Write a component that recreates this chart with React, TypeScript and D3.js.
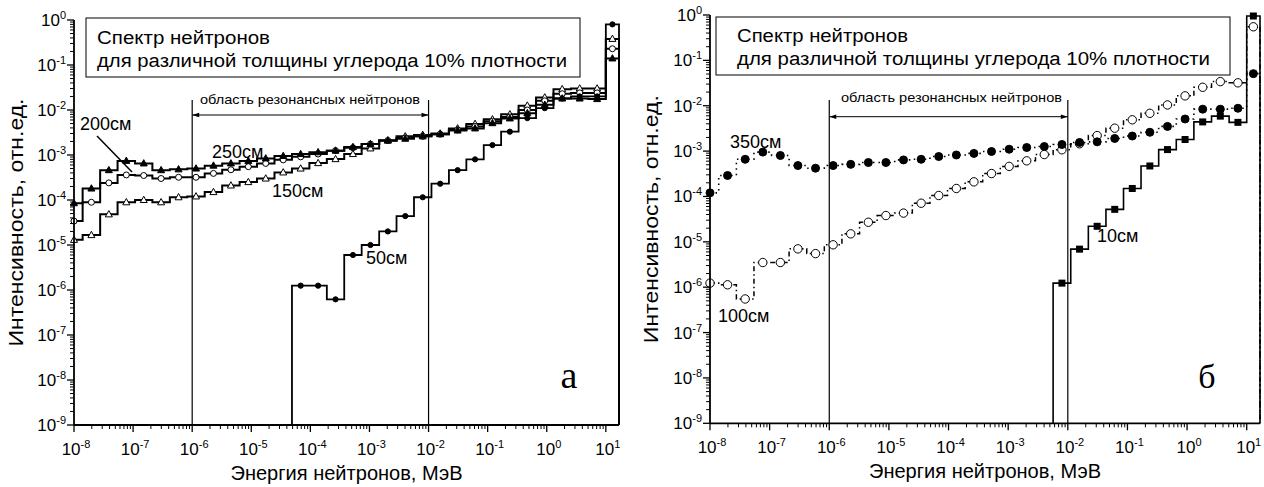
import React from 'react';
import * as d3 from 'd3';

// group boundaries, MeV (last group 10 - 16.7 MeV)
const binEdges = [
  1e-8, 1.4e-8, 2.77e-8, 5.46e-8, 1.08e-7, 2.12e-7, 4.19e-7, 8.26e-7, 1.63e-6, 3.22e-6,
  6.35e-6, 1.25e-5, 2.47e-5, 4.88e-5, 9.62e-5, 1.9e-4, 3.74e-4, 7.38e-4, 1.46e-3, 2.87e-3,
  5.67e-3, 1.12e-2, 2.21e-2, 4.36e-2, 8.59e-2, 0.169, 0.334, 0.659, 1.3, 2.57, 5.07, 10, 16.7,
];

// panel a
const c250 = [
  8.5e-5, 1.8e-4, 4.6e-4, 7.4e-4, 6.5e-4, 4.6e-4, 4.8e-4, 5.0e-4, 5.8e-4, 6.5e-4,
  7.4e-4, 8.4e-4, 9.5e-4, 1.05e-3, 1.15e-3, 1.25e-3, 1.5e-3, 1.75e-3, 2.1e-3, 2.3e-3,
  2.6e-3, 2.9e-3, 3.5e-3, 3.9e-3, 5.1e-3, 6.5e-3, 8.5e-3, 1.3e-2, 1.8e-2, 1.8e-2, 1.75e-2, 0.14,
];
const c200 = [
  3.4e-5, 8.9e-5, 2.4e-4, 3.6e-4, 3.5e-4, 3.0e-4, 3.2e-4, 3.2e-4, 3.9e-4, 4.7e-4,
  5.5e-4, 6.5e-4, 7.8e-4, 9.1e-4, 1.05e-3, 1.25e-3, 1.45e-3, 1.75e-3, 2.1e-3, 2.4e-3,
  2.6e-3, 2.9e-3, 3.6e-3, 4.3e-3, 5.6e-3, 7.0e-3, 1.0e-2, 1.6e-2, 2.3e-2, 2.4e-2, 2.4e-2, 0.23,
];
const c150 = [
  1.3e-5, 1.66e-5, 4.8e-5, 8.9e-5, 1.0e-4, 8.9e-5, 1.15e-4, 1.2e-4, 1.5e-4, 2.1e-4,
  2.5e-4, 3.0e-4, 4.1e-4, 5.0e-4, 6.6e-4, 8.1e-4, 1.05e-3, 1.4e-3, 2.1e-3, 2.6e-3,
  2.8e-3, 3.0e-3, 3.9e-3, 4.9e-3, 6.2e-3, 8.0e-3, 1.25e-2, 1.9e-2, 2.9e-2, 3.0e-2, 3.0e-2, 0.38,
];
const c50 = [
  null, null, null, null, null, null, null, null, null, null,
  null, null, null, 1.25e-6, 1.25e-6, 6.2e-7, 6.0e-6, 1.0e-5, 2.0e-5, 4.4e-5,
  1.15e-4, 2.3e-4, 4.6e-4, 8.0e-4, 1.66e-3, 3.3e-3, 6.6e-3, 1.1e-2, 1.8e-2, 2.0e-2, 2.0e-2, 0.8,
];

// panel б
const c350 = [
  1.2e-4, 2.9e-4, 6.6e-4, 9.5e-4, 8.0e-4, 4.8e-4, 4.2e-4, 4.8e-4, 5.1e-4, 5.6e-4,
  5.6e-4, 6.4e-4, 6.6e-4, 7.6e-4, 8.2e-4, 8.9e-4, 9.8e-4, 1.1e-3, 1.2e-3, 1.26e-3,
  1.4e-3, 1.55e-3, 1.6e-3, 1.9e-3, 2.15e-3, 2.6e-3, 3.5e-3, 5.1e-3, 8.4e-3, 8.4e-3, 8.8e-3, 5.1e-2,
];
const c100 = [
  1.23e-6, 1.13e-6, 5.5e-7, 3.5e-6, 3.5e-6, 7.0e-6, 5.5e-6, 8.6e-6, 1.5e-5, 2.7e-5,
  3.8e-5, 4.3e-5, 7.1e-5, 1.05e-4, 1.5e-4, 2.1e-4, 3.2e-4, 4.6e-4, 6.1e-4, 8.4e-4,
  1.07e-3, 1.45e-3, 2.2e-3, 3.2e-3, 4.9e-3, 6.8e-3, 1.04e-2, 1.65e-2, 2.55e-2, 3.4e-2, 3.2e-2, 0.55,
];
const c10 = [
  null, null, null, null, null, null, null, null, null, null,
  null, null, null, null, null, null, null, null, null, null,
  1.23e-6, 6.9e-6, 2.2e-5, 5.2e-5, 1.5e-4, 4.7e-4, 1.08e-3, 1.8e-3, 4.4e-3, 5.9e-3, 4.3e-3, 0.95,
];

const legendLines = ['Спектр нейтронов', 'для различной толщины углерода 10% плотности'];
const resonanceRange = [1e-6, 1e-2];

const X_MIN = 1e-8;
const X_MAX = 16.7;
const Y_MIN = 1e-9;
const Y_MAX = 1;
const FONT = "Arial, 'Liberation Sans', sans-serif";

type Marker = 'triFill' | 'triOpen' | 'circOpen' | 'circFill' | 'square';
type Series = {
  values: (number | null)[];
  marker: Marker;
  size: number;
  width: number;
  dash?: string;
};

type Label = { text: string; x: number; y: number };

type PanelSpec = {
  x0: number; x1: number; yTop: number; yBot: number;
  series: Series[];
  labels: Label[];
  pointer?: [number, number, number, number];
  letter: string; letterX: number; letterY: number; letterSize: number;
  box: { x: number; y: number; w: number; h: number };
  legendX: number; legendY: [number, number]; legendW: [number, number];
  resX: number; resY: number; resW: number; arrowY: number; lineTop: number;
  yTitleX: number;
};

const centers = binEdges.slice(0, -1).map((e, i) => (i === 0 ? e : Math.sqrt(e * binEdges[i + 1])));

const drawMarker = (m: Marker, cx: number, cy: number, s: number, key: string) => {
  if (m === 'circOpen' || m === 'circFill') {
    return <circle key={key} cx={cx} cy={cy} r={s} fill={m === 'circFill' ? '#000' : '#fff'} stroke="#000" strokeWidth={1} />;
  }
  if (m === 'square') {
    return <rect key={key} x={cx - s / 2} y={cy - s / 2} width={s} height={s} fill="#000" />;
  }
  const h = s * 0.9;
  const pts = `${cx},${cy - h * 0.6} ${cx - s / 2},${cy + h * 0.4} ${cx + s / 2},${cy + h * 0.4}`;
  return <polygon key={key} points={pts} fill={m === 'triFill' ? '#000' : '#fff'} stroke="#000" strokeWidth={1} />;
};

const Sup = ({ x, y, exp, anchor }: { x: number; y: number; exp: number; anchor: string }) => (
  <text x={x} y={y} textAnchor={anchor} fontSize={17} fontFamily={FONT} fill="#000">
    10<tspan dy={-7} fontSize={11}>{String(exp)}</tspan>
  </text>
);

const Panel = ({ p }: { p: PanelSpec }) => {
  const x = d3.scaleLog().domain([X_MIN, X_MAX]).range([p.x0, p.x1]);
  const y = d3.scaleLog().domain([Y_MIN, Y_MAX]).range([p.yBot, p.yTop]);

  const line = d3
    .line<[number, number]>()
    .x((d) => x(d[0]))
    .y((d) => y(d[1]))
    .curve(d3.curveStepAfter);

  const stepPath = (vals: (number | null)[]) => {
    const first = vals.findIndex((v) => v != null);
    const pts: [number, number][] = [];
    if (first > 0) pts.push([binEdges[first], Y_MIN]);
    for (let j = first; j < vals.length; j++) pts.push([binEdges[j], vals[j] as number]);
    pts.push([binEdges[vals.length], Y_MIN]);
    return line(pts) || '';
  };

  const xMajors = d3.range(-8, 2).map((e) => Math.pow(10, e));
  const xMinors: number[] = [];
  xMajors.forEach((m) => d3.range(2, 10).forEach((k) => { if (m * k < X_MAX) xMinors.push(m * k); }));
  const yMajors = d3.range(-9, 1).map((e) => Math.pow(10, e));
  const yMinors: number[] = [];
  yMajors.slice(0, -1).forEach((m) => d3.range(2, 10).forEach((k) => yMinors.push(m * k)));

  const [ra, rb] = resonanceRange;
  const xa = x(ra);
  const xb = x(rb);
  const midY = (p.yTop + p.yBot) / 2;

  return (
    <g>
      {/* legend box */}
      <rect x={p.box.x} y={p.box.y} width={p.box.w} height={p.box.h} fill="#fff" stroke="#000" strokeWidth={1} />
      {legendLines.map((t, i) => (
        <text key={t} x={p.legendX} y={p.legendY[i]} fontSize={18} fontFamily={FONT}
          textLength={p.legendW[i]} lengthAdjust="spacingAndGlyphs">{t}</text>
      ))}

      {/* resonance region */}
      <line x1={xa} x2={xa} y1={p.lineTop} y2={p.yBot} stroke="#000" strokeWidth={1.2} />
      <line x1={xb} x2={xb} y1={p.lineTop} y2={p.yBot} stroke="#000" strokeWidth={1.2} />
      <line x1={xa} x2={xb} y1={p.arrowY} y2={p.arrowY} stroke="#000" strokeWidth={1} />
      <polygon points={`${xa},${p.arrowY} ${xa + 7},${p.arrowY - 2.2} ${xa + 7},${p.arrowY + 2.2}`} fill="#000" />
      <polygon points={`${xb},${p.arrowY} ${xb - 7},${p.arrowY - 2.2} ${xb - 7},${p.arrowY + 2.2}`} fill="#000" />
      <text x={p.resX} y={p.resY} fontSize={13.5} fontFamily={FONT} textLength={p.resW} lengthAdjust="spacingAndGlyphs">
        область резонансных нейтронов
      </text>

      {/* series */}
      {p.series.map((s, si) => (
        <g key={si}>
          <path d={stepPath(s.values)} fill="none" stroke="#000" strokeWidth={s.width}
            strokeDasharray={s.dash} strokeLinejoin="miter" />
          {s.values.map((v, j) => (v == null ? null : drawMarker(s.marker, x(centers[j]), y(v), s.size, `${si}-${j}`)))}
        </g>
      ))}

      {/* axes */}
      <line x1={p.x0} x2={p.x1} y1={p.yBot} y2={p.yBot} stroke="#000" strokeWidth={1.8} />
      <line x1={p.x0} x2={p.x0} y1={p.yBot} y2={p.yTop} stroke="#000" strokeWidth={1.8} />
      {xMajors.map((t) => (
        <g key={`xM${t}`}>
          <line x1={x(t)} x2={x(t)} y1={p.yBot} y2={p.yBot + 7} stroke="#000" strokeWidth={1.3} />
          <Sup x={x(t) + 2} y={p.yBot + 30} exp={Math.round(Math.log10(t))} anchor="middle" />
        </g>
      ))}
      {xMinors.map((t) => (
        <line key={`xm${t}`} x1={x(t)} x2={x(t)} y1={p.yBot} y2={p.yBot + 4} stroke="#000" strokeWidth={1} />
      ))}
      {yMajors.map((t) => (
        <g key={`yM${t}`}>
          <line x1={p.x0 - 7} x2={p.x0} y1={y(t)} y2={y(t)} stroke="#000" strokeWidth={1.3} />
          <Sup x={p.x0 - 8} y={y(t) + 6} exp={Math.round(Math.log10(t))} anchor="end" />
        </g>
      ))}
      {yMinors.map((t) => (
        <line key={`ym${t}`} x1={p.x0 - 4} x2={p.x0} y1={y(t)} y2={y(t)} stroke="#000" strokeWidth={1} />
      ))}

      {/* titles */}
      <text x={(p.x0 + p.x1) / 2} y={p.yBot + 55} textAnchor="middle" fontSize={19.5} fontFamily={FONT}
        textLength={232} lengthAdjust="spacingAndGlyphs">Энергия нейтронов, МэВ</text>
      <text transform={`translate(${p.yTitleX},${midY}) rotate(-90)`} textAnchor="middle" fontSize={19.5}
        fontFamily={FONT} textLength={248} lengthAdjust="spacingAndGlyphs">Интенсивность, отн.ед.</text>

      {/* annotations */}
      {p.labels.map((l) => (
        <text key={l.text} x={l.x} y={l.y} fontSize={18} fontFamily={FONT}>{l.text}</text>
      ))}
      {p.pointer && (
        <line x1={p.pointer[0]} y1={p.pointer[1]} x2={p.pointer[2]} y2={p.pointer[3]} stroke="#000" strokeWidth={1.5} />
      )}
      <text x={p.letterX} y={p.letterY} textAnchor="middle" fontSize={p.letterSize}
        fontFamily="'Liberation Serif', 'Times New Roman', serif">{p.letter}</text>
    </g>
  );
};

const leftPanel: PanelSpec = {
  x0: 74, x1: 619, yTop: 20, yBot: 425,
  series: [
    { values: c150, marker: 'triOpen', size: 7, width: 2 },
    { values: c200, marker: 'circOpen', size: 3, width: 2 },
    { values: c250, marker: 'triFill', size: 7, width: 2 },
    { values: c50, marker: 'circFill', size: 2.6, width: 1.8 },
  ],
  labels: [
    { text: '200см', x: 80, y: 130 },
    { text: '250см', x: 212, y: 158 },
    { text: '150см', x: 272, y: 197 },
    { text: '50см', x: 366, y: 264 },
  ],
  pointer: [97, 136, 132, 172],
  letter: 'а', letterX: 569, letterY: 388, letterSize: 38,
  box: { x: 86, y: 18, w: 494, h: 59 },
  legendX: 97, legendY: [43.5, 66.5], legendW: [173, 470],
  resX: 200, resY: 103.5, resW: 220, arrowY: 115, lineTop: 100,
  yTitleX: 23,
};

const rightPanel: PanelSpec = {
  x0: 710, x1: 1260, yTop: 15, yBot: 423.3,
  series: [
    { values: c100, marker: 'circOpen', size: 4.2, width: 1.5, dash: '5,3,1.5,3' },
    { values: c350, marker: 'circFill', size: 4, width: 1.6, dash: '1.5,4' },
    { values: c10, marker: 'square', size: 7, width: 1.6 },
  ],
  labels: [
    { text: '350см', x: 730, y: 148 },
    { text: '100см', x: 718, y: 322 },
    { text: '10см', x: 1097, y: 242 },
  ],
  letter: 'б', letterX: 1207, letterY: 388, letterSize: 34,
  box: { x: 716, y: 17, w: 514, h: 58 },
  legendX: 737, legendY: [42, 65], legendW: [171, 473],
  resX: 841, resY: 102, resW: 221, arrowY: 116.7, lineTop: 100,
  yTitleX: 658,
};

export default function App() {
  return (
    <svg width={1264} height={487} style={{ position: 'absolute', left: 0, top: 0, background: '#fff' }}>
      <rect width={1264} height={487} fill="#fff" />
      <Panel p={leftPanel} />
      <Panel p={rightPanel} />
    </svg>
  );
}
